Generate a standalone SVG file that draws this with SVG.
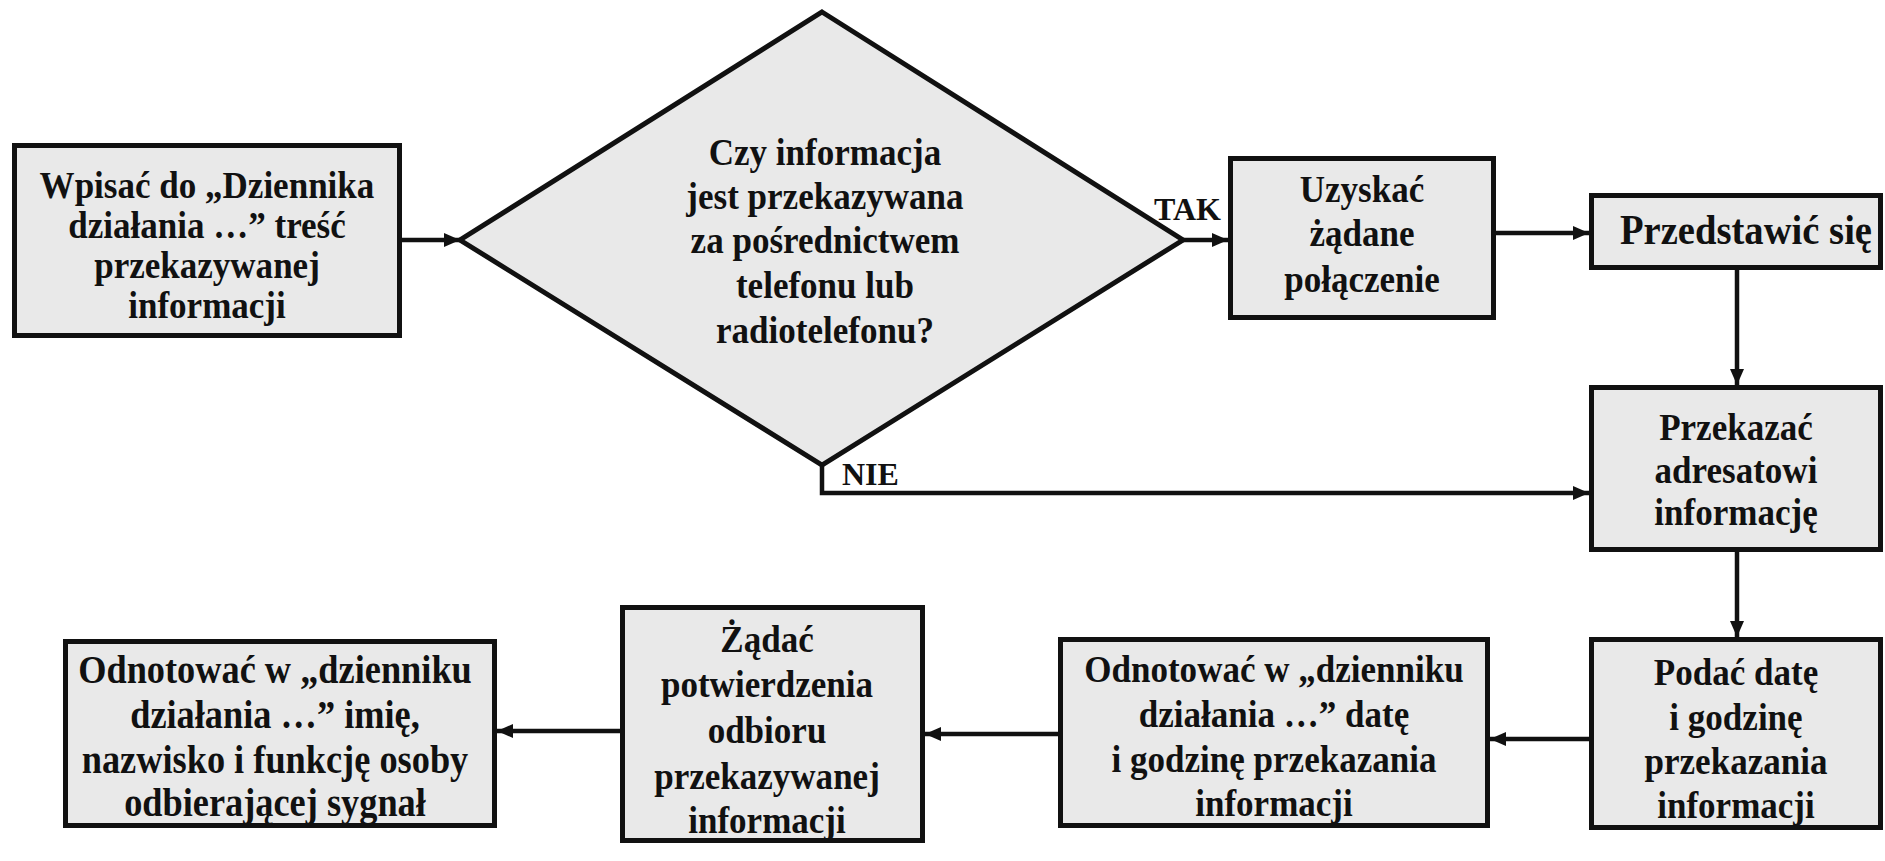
<svg xmlns="http://www.w3.org/2000/svg" width="1885" height="861" viewBox="0 0 1885 861">
  <defs>
    <style>
      .box { fill: #e9e9e9; stroke: #111; stroke-width: 5; }
      .t { font-family: "Liberation Serif", "Times New Roman", serif; font-weight: bold; font-size: 38.5px; fill: #111; text-anchor: middle; transform-box: fill-box; transform-origin: center; transform: scaleX(0.91); }
      .big { font-size: 42px; transform: scaleX(0.92); }
      .wide { font-size: 39.5px; transform: scaleX(0.92); }
      .lbl { font-family: "Liberation Serif", "Times New Roman", serif; font-weight: bold; font-size: 32px; fill: #111; }
      .conn { fill: none; stroke: #111; stroke-width: 4.5; }
    </style>
    <marker id="arr" markerUnits="userSpaceOnUse" markerWidth="18" markerHeight="16" refX="16" refY="8" orient="auto">
      <path d="M0,1 L16,8 L0,15 Z" fill="#111"/>
    </marker>
  </defs>
  <rect width="1885" height="861" fill="#ffffff"/>

  <g id="n1">
    <rect class="box" x="14.5" y="145.5" width="385" height="190"/>
    <text class="t" x="207" y="198">Wpisać do „Dziennika</text>
    <text class="t" x="207" y="238">działania …” treść</text>
    <text class="t" x="207" y="278">przekazywanej</text>
    <text class="t" x="207" y="318">informacji</text>
  </g>

  <g id="decision">
    <polygon class="box" points="822,12 1183,240 822,465 460,240"/>
    <text class="t" x="825" y="165">Czy informacja</text>
    <text class="t" x="825" y="209">jest przekazywana</text>
    <text class="t" x="825" y="253">za pośrednictwem</text>
    <text class="t" x="825" y="298">telefonu lub</text>
    <text class="t" x="825" y="343">radiotelefonu?</text>
  </g>

  <g id="n2">
    <rect class="box" x="1230.5" y="158.5" width="263" height="159"/>
    <text class="t" x="1362" y="202">Uzyskać</text>
    <text class="t" x="1362" y="246">żądane</text>
    <text class="t" x="1362" y="292">połączenie</text>
  </g>

  <g id="n3">
    <rect class="box" x="1591.5" y="195.5" width="289" height="72"/>
    <text class="t big" x="1746" y="244">Przedstawić się</text>
  </g>

  <g id="n4">
    <rect class="box" x="1591.5" y="387.5" width="289" height="162"/>
    <text class="t" x="1736" y="440">Przekazać</text>
    <text class="t" x="1736" y="483">adresatowi</text>
    <text class="t" x="1736" y="525">informację</text>
  </g>

  <g id="n5">
    <rect class="box" x="1591.5" y="639.5" width="289" height="188"/>
    <text class="t" x="1736" y="685">Podać datę</text>
    <text class="t" x="1736" y="730">i godzinę</text>
    <text class="t" x="1736" y="774">przekazania</text>
    <text class="t" x="1736" y="818">informacji</text>
  </g>

  <g id="n6">
    <rect class="box" x="1060.5" y="639.5" width="427" height="186"/>
    <text class="t" x="1274" y="682">Odnotować w „dzienniku</text>
    <text class="t" x="1274" y="727">działania …” datę</text>
    <text class="t" x="1274" y="772">i godzinę przekazania</text>
    <text class="t" x="1274" y="816">informacji</text>
  </g>

  <g id="n7">
    <rect class="box" x="622.5" y="607.5" width="300" height="233"/>
    <text class="t" x="767" y="652">Żądać</text>
    <text class="t" x="767" y="697">potwierdzenia</text>
    <text class="t" x="767" y="743">odbioru</text>
    <text class="t" x="767" y="789">przekazywanej</text>
    <text class="t" x="767" y="833">informacji</text>
  </g>

  <g id="n8">
    <rect class="box" x="65.5" y="641.5" width="429" height="184"/>
    <text class="t wide" x="275" y="683">Odnotować w „dzienniku</text>
    <text class="t wide" x="275" y="728">działania …” imię,</text>
    <text class="t wide" x="275" y="773">nazwisko i funkcję osoby</text>
    <text class="t wide" x="275" y="816">odbierającej sygnał</text>
  </g>

  <g id="connectors">
    <line class="conn" x1="402" y1="240" x2="460" y2="240" marker-end="url(#arr)"/>
    <line class="conn" x1="1183" y1="240" x2="1228" y2="240" marker-end="url(#arr)"/>
    <line class="conn" x1="1496" y1="233" x2="1589" y2="233" marker-end="url(#arr)"/>
    <line class="conn" x1="1737" y1="270" x2="1737" y2="385" marker-end="url(#arr)"/>
    <polyline class="conn" points="822,465 822,493 1589,493" marker-end="url(#arr)"/>
    <line class="conn" x1="1737" y1="552" x2="1737" y2="637" marker-end="url(#arr)"/>
    <line class="conn" x1="1589" y1="739" x2="1490" y2="739" marker-end="url(#arr)"/>
    <line class="conn" x1="1058" y1="734" x2="925" y2="734" marker-end="url(#arr)"/>
    <line class="conn" x1="620" y1="731" x2="497" y2="731" marker-end="url(#arr)"/>
    <text class="lbl" x="1154" y="220">TAK</text>
    <text class="lbl" x="842" y="485">NIE</text>
  </g>
</svg>
